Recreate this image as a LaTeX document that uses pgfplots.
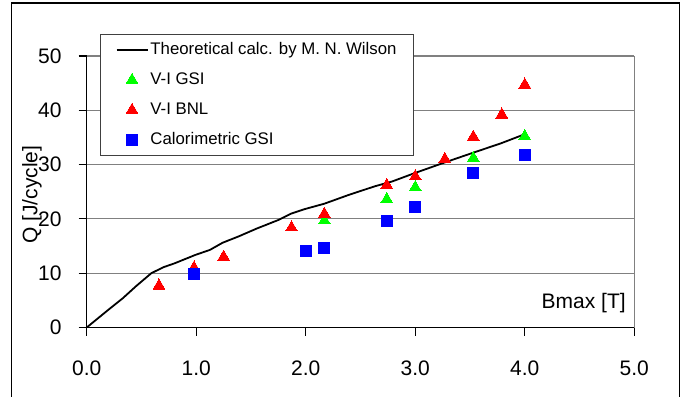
\documentclass[border=0pt]{standalone}
\usepackage{pgfplots}
\pgfplotsset{compat=1.18}
\usepackage{fontspec}
\setmainfont{Liberation Sans}
\definecolor{mgreen}{RGB}{0,255,0}
\definecolor{mred}{RGB}{255,0,0}
\definecolor{mblue}{RGB}{0,0,255}
\begin{document}
\begin{tikzpicture}
\useasboundingbox (-43.35pt,-34.25pt) rectangle (298.65pt,163.75pt);
\draw[line width=0.8pt] (-37.5pt,-60pt) rectangle (296.3pt,162.1pt);
\begin{axis}[
  at={(0,0)}, anchor=south west,
  scale only axis, width=273.8pt, height=135.75pt,
  xmin=0, xmax=5, ymin=0, ymax=50,
  clip mode=individual,
  axis x line*=bottom, axis y line*=left,
  axis line style={line width=0.6pt, black, -},
  xtick={0,1,2,3,4,5}, ytick={0,10,20,30,40,50},
  tick align=outside, major tick length=4pt,
  tick style={line width=0.6pt, black},
  ymajorgrids, grid style={line width=0.6pt, gray},
  /pgf/number format/assume math mode=true,
  tick label style={font=\fontsize{10.5}{12}\selectfont},
  xticklabel style={/pgf/number format/.cd, fixed, fixed zerofill, precision=1, /tikz/.cd, anchor=center, yshift=-16.6pt},
  yticklabel style={anchor=east, inner sep=0pt, xshift=-8.35pt},
  xlabel={Bmax [T]},
  xlabel style={at={(axis description cs:0.985,0.090)}, anchor=east, inner sep=0pt, font=\fontsize{10.5}{12}\selectfont},
  legend style={at={(axis description cs:0.0243,1.081)}, anchor=north west,
    draw=black!75, line width=0.6pt, fill=white,
    inner xsep=7.5pt, inner ysep=2.75pt, row sep=5pt,
    font=\fontsize{8.4}{9.5}\selectfont,
    nodes={inner sep=1pt, text height=6.2pt, text depth=1.8pt}},
  legend cell align=left,
  legend image code/.code={\draw[mark repeat=2,mark phase=2,#1] plot coordinates {(0pt,0pt) (7.75pt,0pt) (15.5pt,0pt)};},
]
\draw[gray, line width=0.6pt] (rel axis cs:1,0) -- (rel axis cs:1,1);
\addplot[black, line width=0.9pt, no marks] coordinates {
(0,0) (0.2,3.3) (0.33,5.4) (0.45,7.6) (0.59,10.0) (0.7,11.1) (0.8,11.8) (0.99,13.35)
(1.126,14.3) (1.24,15.6) (1.39,16.8) (1.55,18.2) (1.75,19.8) (1.87,21.0) (1.99,21.8)
(2.17,22.8) (2.39,24.4) (2.63,26.0) (2.79,26.9) (2.99,28.4) (3.27,30.4) (3.53,32.2)
(3.78,33.9) (4.0,35.6)};
\addlegendentry{Theoretical calc. by M. N. Wilson\hspace{3.5pt}}
\addplot[only marks, mark=triangle*, mark size=3.4pt, mgreen, mark options={draw=mgreen, fill=mgreen, line width=0pt}] coordinates {
(0.98,10.0) (2.17,19.7) (2.74,23.6) (3.0,25.8) (3.53,31.2) (4.0,35.2)};
\addlegendentry{V-I GSI}
\addplot[only marks, mark=triangle*, mark size=3.4pt, mred, mark options={draw=mred, fill=mred, line width=0pt}] coordinates {
(0.66,7.7) (0.98,11.0) (1.25,13.0) (1.87,18.4) (2.17,20.9) (2.74,26.2) (3.0,27.8)
(3.27,31.0) (3.53,35.1) (3.79,39.2) (4.0,44.7)};
\addlegendentry{V-I BNL}
\addplot[only marks, mark=square*, mark size=2.75pt, mblue, mark options={draw=mblue, fill=mblue, line width=0pt}] coordinates {
(0.98,9.9) (2.0,14.0) (2.17,14.6) (2.74,19.7) (3.0,22.1) (3.53,28.4) (4.0,31.8)};
\addlegendentry{Calorimetric GSI}
\end{axis}
\node[rotate=90, anchor=center, inner sep=0pt, font=\fontsize{10.5}{12}\selectfont] at (-27.4pt,66.5pt) {Q  [J/cycle]};
\end{tikzpicture}
\end{document}
